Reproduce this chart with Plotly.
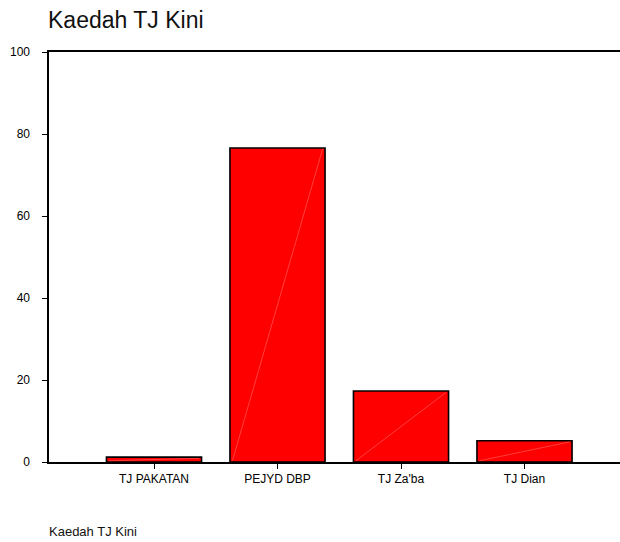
import plotly.graph_objects as go

categories = ["TJ PAKATAN", "PEJYD DBP", "TJ Za'ba", "TJ Dian"]
values = [1.2, 76.6, 17.3, 5.2]
y_ticks = [0, 20, 40, 60, 80, 100]

W, H = 640, 542          # plot runs past the 620px window edge, as in the reference
ml, mt, mb, mr = 49, 52, 80, 0
bar_w = 0.77
xpos = list(range(len(categories)))
plot_h = H - mt - mb
unit_px = 123.5
x0_px = 154
x_range = [-(x0_px - ml) / unit_px, (W - mr - x0_px) / unit_px]

fig = go.Figure()
fig.add_trace(go.Bar(
    x=xpos, y=values, width=bar_w,
    marker=dict(color="#ff0000", line=dict(color="#000000", width=1.6)),
    showlegend=False, hoverinfo="skip",
))

# faint diagonal rendering seam inside each bar (from data)
dx, dy = [], []
for i, v in zip(xpos, values):
    dx += [i - bar_w / 2 + 0.02, i + bar_w / 2 - 0.02, None]
    dy += [0.3, v - 0.3, None]
fig.add_trace(go.Scatter(
    x=dx, y=dy, mode="lines",
    line=dict(color="rgba(255,130,130,0.8)", width=0.6),
    showlegend=False, hoverinfo="skip",
))

fig.update_layout(
    width=W, height=H,
    margin=dict(l=ml, r=mr, t=mt, b=mb),
    paper_bgcolor="white", plot_bgcolor="white",
    font=dict(family="Liberation Sans, Arial, sans-serif", color="#000000"),
    title=dict(text="Kaedah TJ Kini", x=48 / W, xanchor="left", xref="container",
               y=1 - 20 / H, yanchor="middle", yref="container",
               font=dict(size=23, color="#111111")),
    xaxis=dict(
        range=x_range, tickvals=xpos, ticktext=categories,
        showline=True, linecolor="black", linewidth=1.6, mirror=True,
        ticks="outside", ticklen=5, tickcolor="black", tickwidth=1,
        showgrid=False, zeroline=False, tickfont=dict(size=12),
        fixedrange=True,
    ),
    yaxis=dict(
        range=[0, 100], tickvals=y_ticks,
        showline=True, linecolor="black", linewidth=1.6,
        ticks="outside", ticklen=5, tickcolor="black", tickwidth=1,
        ticklabelstandoff=10,
        showgrid=False, zeroline=False, tickfont=dict(size=12),
        fixedrange=True,
    ),
    annotations=[dict(
        text="Kaedah TJ Kini", xref="paper", yref="paper",
        x=(47 - ml) / (W - ml - mr),
        y=-(531 - (H - mb)) / plot_h,
        xanchor="left", yanchor="middle", showarrow=False,
        font=dict(size=13, color="#111111"),
    )],
)

fig.write_html(
    "out.html",
    config={"displayModeBar": False, "staticPlot": True},
    post_script="document.body.style.margin='0';document.body.style.overflow='hidden';",
)
